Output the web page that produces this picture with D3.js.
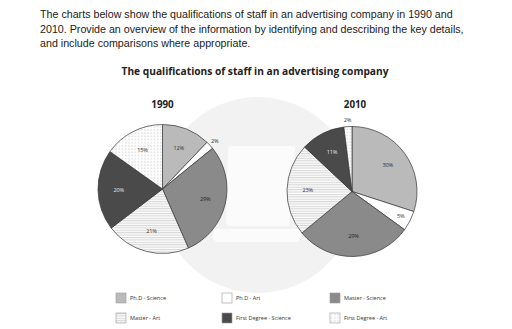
<!DOCTYPE html>
<html>
<head>
<meta charset="utf-8">
<script src="https://cdn.jsdelivr.net/npm/d3@7"></script>
<style>
  html, body { margin: 0; padding: 0; background: #fff; }
  svg { display: block; }
</style>
</head>
<body>
<svg id="chart" width="512" height="329"></svg>
<script>
// Qualification categories, in drawing order (clockwise from 12 o'clock)
const categories = ["Ph.D - Science", "Ph.D - Art", "Master - Science", "Master - Art", "First Degree - Science", "First Degree - Art"];
const years = ["1990", "2010"];
const values1990 = [12, 2, 29, 21, 20, 15];
const values2010 = [30, 5, 29, 23, 11, 2];

const promptLines = [
  "The charts below show the qualifications of staff in an advertising company in 1990 and",
  "2010. Provide an overview of the information by identifying and describing the key details,",
  "and include comparisons where appropriate."
];
const chartTitle = "The qualifications of staff in an advertising company";

const svg = d3.select("#chart");
const defs = svg.append("defs");

// Fill patterns for the "Art" categories
const hatch = defs.append("pattern").attr("id", "hatch")
  .attr("patternUnits", "userSpaceOnUse").attr("width", 4).attr("height", 2.4);
hatch.append("rect").attr("width", 4).attr("height", 2.4).attr("fill", "#fbfbfb");
hatch.append("line").attr("x1", 0).attr("x2", 4).attr("y1", 0.6).attr("y2", 0.6)
  .attr("stroke", "#b4b4b4").attr("stroke-width", 0.6);

const dots = defs.append("pattern").attr("id", "dots")
  .attr("patternUnits", "userSpaceOnUse").attr("width", 3.2).attr("height", 3.2);
dots.append("rect").attr("width", 3.2).attr("height", 3.2).attr("fill", "#fcfcfc");
dots.append("circle").attr("cx", 1.6).attr("cy", 1.6).attr("r", 0.45).attr("fill", "#9a9a9a");

const fillScale = d3.scaleOrdinal()
  .domain(categories)
  .range(["#bababa", "#ffffff", "#8a8a8a", "url(#hatch)", "#4a4a4a", "url(#dots)"]);
const labelColor = d3.scaleOrdinal()
  .domain(categories)
  .range(["#333", "#333", "#222", "#333", "#e6e6e6", "#333"]);

// Background emblem: pale disc with a laptop outline
const emblem = svg.append("g");
emblem.append("circle").attr("cx", 258).attr("cy", 195).attr("r", 98).attr("fill", "#f2f2f2");
emblem.append("path")
  .attr("d", "M232,146 L292,146 Q296,146 295,150 L289,226 L230,226 Q226,226 226,222 L228,150 Q228,146 232,146 Z")
  .attr("fill", "#fbfbfb");
emblem.append("rect").attr("x", 213).attr("y", 229).attr("width", 88).attr("height", 13).attr("rx", 5)
  .attr("fill", "#fbfbfb");

// Prompt text
svg.append("g").selectAll("text").data(promptLines).join("text")
  .attr("x", 40).attr("y", (d, i) => 18 + i * 14.5)
  .attr("font-family", "Liberation Sans, Arial, sans-serif")
  .attr("font-size", 10.7).attr("fill", "#1a1a1a")
  .text(d => d);

// Chart title
svg.append("text")
  .attr("x", 255).attr("y", 75).attr("text-anchor", "middle")
  .attr("font-family", "Open Sans, sans-serif").attr("font-weight", 700)
  .attr("font-size", 10.2).attr("fill", "#222")
  .text(chartTitle);

const pie = d3.pie().sort(null).value(d => d.value);
const series = [
  { year: years[0], values: values1990, cx: 162.5, cy: 189, r: 64.5 },
  { year: years[1], values: values2010, cx: 352, cy: 191.5, r: 65 }
];

series.forEach(s => {
  const data = categories.map((c, i) => ({ category: c, value: s.values[i] }));
  const arcs = pie(data);
  const arc = d3.arc().innerRadius(0).outerRadius(s.r);
  const g = svg.append("g").attr("transform", `translate(${s.cx},${s.cy})`);

  g.selectAll("path").data(arcs).join("path")
    .attr("d", arc)
    .attr("fill", d => fillScale(d.data.category))
    .attr("stroke", "#333").attr("stroke-width", 0.7);

  // Label radius factor: tiny slices outside, small ones near the rim
  const labelR = v => v <= 3 ? 1.1 : (v < 8 ? 0.84 : 0.68);
  g.selectAll("text.pct").data(arcs).join("text")
    .attr("class", "pct")
    .attr("transform", d => {
      const a = (d.startAngle + d.endAngle) / 2;
      const rr = s.r * labelR(d.data.value);
      return `translate(${Math.sin(a) * rr},${-Math.cos(a) * rr})`;
    })
    .attr("text-anchor", "middle").attr("dy", "0.35em")
    .attr("font-family", "Open Sans, sans-serif").attr("font-size", 5.6)
    .attr("letter-spacing", -0.2)
    .attr("fill", d => d.data.value <= 3 ? "#333" : labelColor(d.data.category))
    .text(d => d.data.value + "%");

  svg.append("text")
    .attr("x", s.cx + (s.year === "2010" ? 3 : 0)).attr("y", 108).attr("text-anchor", "middle")
    .attr("font-family", "Open Sans, sans-serif").attr("font-weight", 700)
    .attr("font-size", 9.8).attr("fill", "#222")
    .text(s.year);
});

// Legend: three columns, two rows
const legendX = d3.scaleOrdinal().domain([0, 1, 2]).range([116, 222, 330]);
const legendY = d3.scaleOrdinal().domain([0, 1]).range([293, 313]);
const legend = svg.append("g").selectAll("g").data(categories).join("g")
  .attr("transform", (d, i) => `translate(${legendX(i % 3)},${legendY(Math.floor(i / 3))})`);
legend.append("rect")
  .attr("width", 10).attr("height", 10)
  .attr("fill", d => fillScale(d))
  .attr("stroke", "#9a9a9a").attr("stroke-width", 0.6);
legend.append("text")
  .attr("x", 14).attr("y", 5).attr("dy", "0.35em")
  .attr("font-family", "Open Sans, sans-serif").attr("font-size", 5.5)
  .attr("fill", "#333")
  .text(d => d);
</script>
</body>
</html>
